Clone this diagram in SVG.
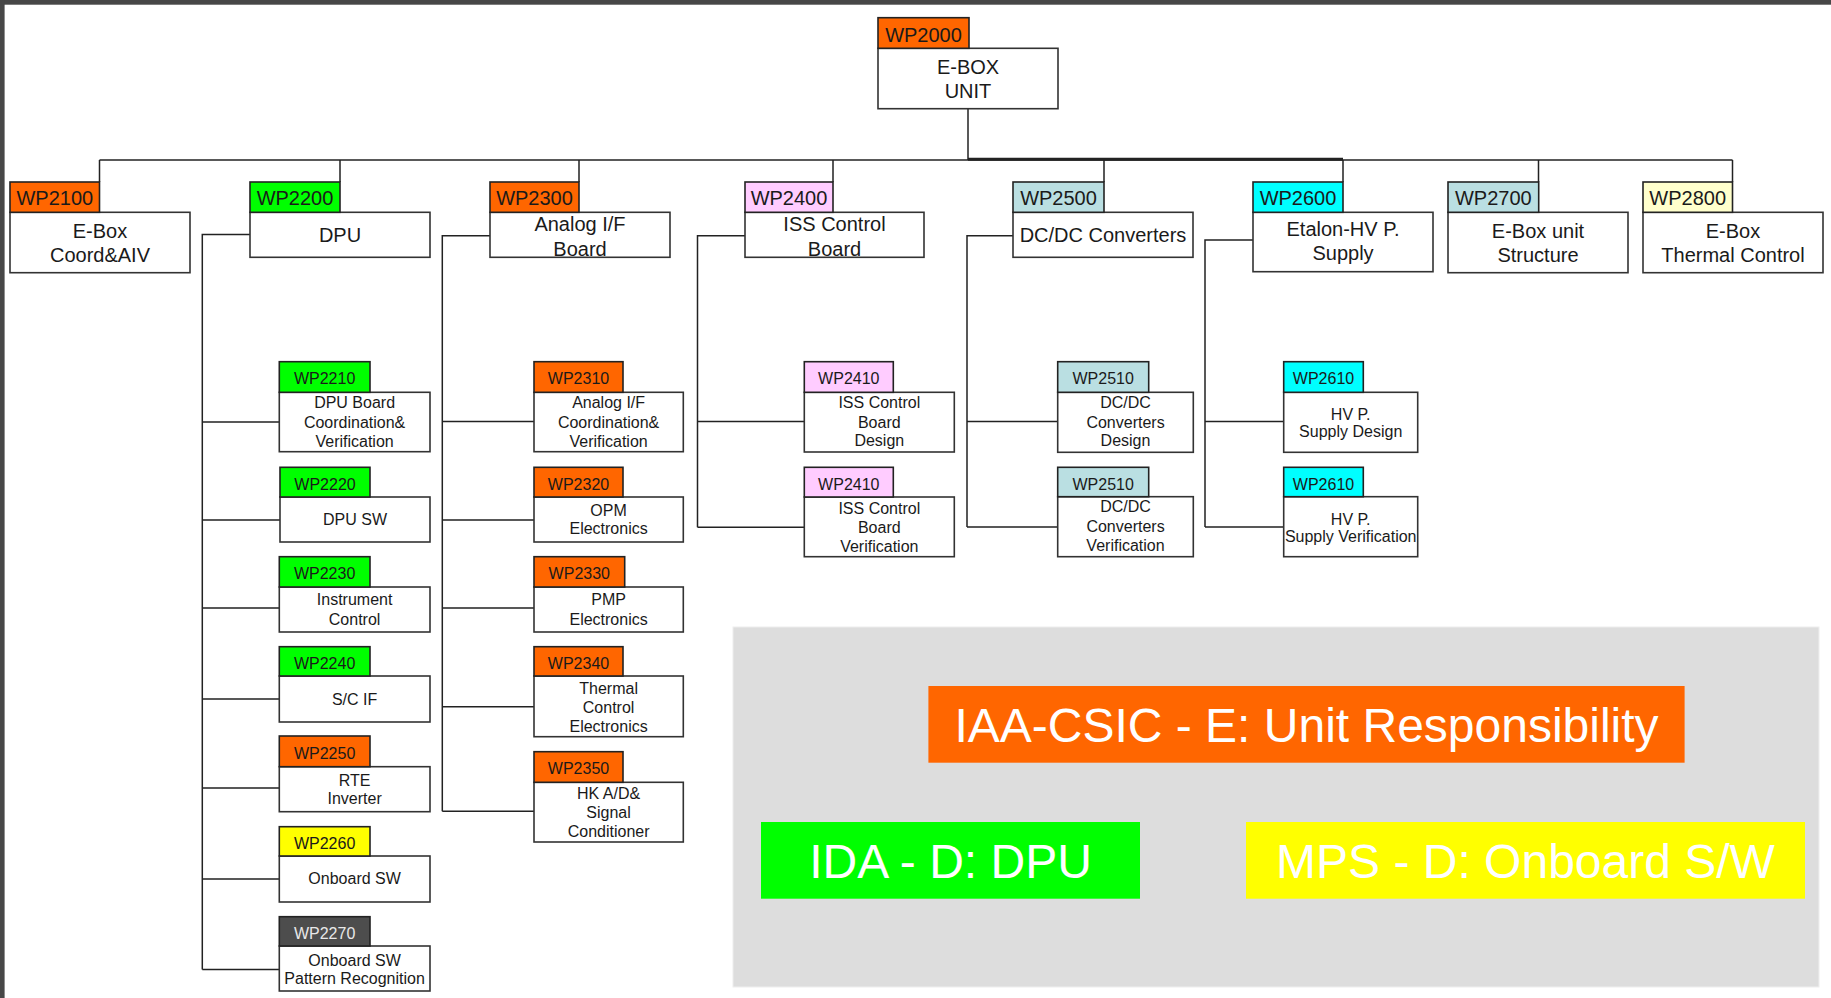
<svg xmlns="http://www.w3.org/2000/svg" width="1831" height="998" viewBox="0 0 1831 998">
<style>
.box{fill:#fff;stroke:#333;stroke-width:1.6}
.lb{stroke:#222;stroke-width:1.6}
.or{fill:#FF6600}.gr{fill:#00FF00}.pk{fill:#FFCCFF}.bl{fill:#BADFE2}.cy{fill:#00FFFF}.ly{fill:#FFFFCC}.ye{fill:#FFFF00}.dk{fill:#4D4D4D}
text{font-family:"Liberation Sans",Arial,sans-serif;text-anchor:middle;fill:#1a1a1a}
.t20{font-size:20px}
.t16{font-size:16px}
.lt{fill:#e8e8e8}
.big{font-size:48px;fill:#fff}
.ln{fill:none;stroke:#222;stroke-width:1.5}
</style>
<rect x="0" y="0" width="1831" height="998" fill="#fff"/>
<rect x="0" y="0" width="1831" height="4.7" fill="#474747"/>
<rect x="0" y="0" width="4.6" height="998" fill="#474747"/>

<g id="connectors" class="ln">
<path d="M99.5,160 H1732.5"/>
<path d="M968,159.3 H1343" stroke-width="3"/>
<path d="M968,108.7 V160"/>
<path d="M99.5,160 V182 M340,160 V182 M579,160 V182 M833,160 V182 M1104,160 V182 M1343,160 V182 M1538.5,160 V182 M1732.5,160 V182"/>
<path d="M250,234.5 H202.3 V969.5 M202.3,422 H279.3 M202.3,520 H280 M202.3,608 H279.3 M202.3,699 H279.3 M202.3,788 H279.3 M202.3,879 H279.3 M202.3,969.5 H279.3"/>
<path d="M490,235.7 H442.3 V811.3 M442.3,421.5 H534 M442.3,520 H534 M442.3,608 H534 M442.3,706.7 H534 M442.3,811.3 H534"/>
<path d="M745,235.7 H697.5 V527.3 M697.5,421.5 H804.3 M697.5,527.3 H804.3"/>
<path d="M1013,235.7 H967 V527 M967,421.5 H1057.7 M967,527 H1057.7"/>
<path d="M1253,240 H1205 V527 M1205,421.5 H1283.7 M1205,527 H1283.7"/>
</g>

<g id="WP2000">
<rect class="box" x="878" y="48.3" width="180" height="60.4"/>
<rect class="lb or" x="878" y="17.7" width="91" height="30.6"/>
<text class="t20" x="923.5" y="41.7">WP2000</text>
<text class="t20" x="968" y="74">E-BOX</text>
<text class="t20" x="968" y="98.3">UNIT</text>
</g>

<g id="WP2100">
<rect class="box" x="10" y="212.3" width="180" height="60.4"/>
<rect class="lb or" x="10" y="182" width="89.5" height="30.3"/>
<text class="t20" x="54.8" y="205">WP2100</text>
<text class="t20" x="100" y="238">E-Box</text>
<text class="t20" x="100" y="262">Coord&amp;AIV</text>
</g>

<g id="WP2200">
<rect class="box" x="250" y="212.3" width="180" height="45"/>
<rect class="lb gr" x="250" y="182" width="90" height="30.3"/>
<text class="t20" x="295" y="205">WP2200</text>
<text class="t20" x="340" y="242.3">DPU</text>
</g>

<g id="WP2300">
<rect class="box" x="490" y="212.3" width="180" height="45"/>
<rect class="lb or" x="490" y="182" width="89" height="30.3"/>
<text class="t20" x="534.5" y="205">WP2300</text>
<text class="t20" x="580" y="230.7">Analog I/F</text>
<text class="t20" x="580" y="255.7">Board</text>
</g>

<g id="WP2400">
<rect class="box" x="745" y="212.3" width="179" height="45"/>
<rect class="lb pk" x="745" y="182" width="88" height="30.3"/>
<text class="t20" x="789" y="205">WP2400</text>
<text class="t20" x="834.5" y="230.7">ISS Control</text>
<text class="t20" x="834.5" y="255.7">Board</text>
</g>

<g id="WP2500">
<rect class="box" x="1013" y="212.3" width="180" height="45"/>
<rect class="lb bl" x="1013" y="182" width="91" height="30.3"/>
<text class="t20" x="1058.5" y="205">WP2500</text>
<text class="t20" x="1103" y="242.3">DC/DC Converters</text>
</g>

<g id="WP2600">
<rect class="box" x="1253" y="212.3" width="180" height="59.4"/>
<rect class="lb cy" x="1253" y="182" width="90" height="30.3" stroke-width="2.2"/>
<text class="t20" x="1298" y="205">WP2600</text>
<text class="t20" x="1343" y="235.7">Etalon-HV P.</text>
<text class="t20" x="1343" y="260">Supply</text>
</g>

<g id="WP2700">
<rect class="box" x="1448" y="212.3" width="180" height="60.4"/>
<rect class="lb bl" x="1448" y="182" width="90.7" height="30.3"/>
<text class="t20" x="1493.3" y="205">WP2700</text>
<text class="t20" x="1538" y="238.3">E-Box unit</text>
<text class="t20" x="1538" y="262.3">Structure</text>
</g>

<g id="WP2800">
<rect class="box" x="1643" y="212.3" width="180" height="60.4"/>
<rect class="lb ly" x="1643" y="182" width="89.5" height="30.3"/>
<text class="t20" x="1687.7" y="205">WP2800</text>
<text class="t20" x="1733" y="238.3">E-Box</text>
<text class="t20" x="1733" y="262.3">Thermal Control</text>
</g>

<g id="WP2210">
<rect class="box" x="279.3" y="392.3" width="150.7" height="59.4"/>
<rect class="lb gr" x="279.3" y="361.7" width="90.7" height="30.6"/>
<text class="t16" x="324.6" y="384.3">WP2210</text>
<text class="t16" x="354.6" y="408.3">DPU Board</text>
<text class="t16" x="354.6" y="428.3">Coordination&amp;</text>
<text class="t16" x="354.6" y="446.7">Verification</text>
</g>

<g id="WP2220">
<rect class="box" x="280" y="497" width="150" height="45"/>
<rect class="lb gr" x="280" y="467.3" width="90" height="29.7"/>
<text class="t16" x="325" y="489.6">WP2220</text>
<text class="t16" x="355" y="525.3">DPU SW</text>
</g>

<g id="WP2230">
<rect class="box" x="279.3" y="587" width="150.7" height="45"/>
<rect class="lb gr" x="279.3" y="556.7" width="90.7" height="30.3"/>
<text class="t16" x="324.6" y="579.3">WP2230</text>
<text class="t16" x="354.6" y="605">Instrument</text>
<text class="t16" x="354.6" y="625">Control</text>
</g>

<g id="WP2240">
<rect class="box" x="279.3" y="676" width="150.7" height="46"/>
<rect class="lb gr" x="279.3" y="646.7" width="90.7" height="29.3"/>
<text class="t16" x="324.6" y="668.6">WP2240</text>
<text class="t16" x="354.6" y="705">S/C IF</text>
</g>

<g id="WP2250">
<rect class="box" x="279.3" y="766.7" width="150.7" height="45"/>
<rect class="lb or" x="279.3" y="736" width="90.7" height="30.7"/>
<text class="t16" x="324.6" y="758.6">WP2250</text>
<text class="t16" x="354.6" y="786">RTE</text>
<text class="t16" x="354.6" y="804.3">Inverter</text>
</g>

<g id="WP2260">
<rect class="box" x="279.3" y="856" width="150.7" height="46"/>
<rect class="lb ye" x="279.3" y="826.7" width="90.7" height="29.3"/>
<text class="t16" x="324.6" y="848.6">WP2260</text>
<text class="t16" x="354.6" y="884.3">Onboard SW</text>
</g>

<g id="WP2270">
<rect class="box" x="279.3" y="946" width="150.7" height="45"/>
<rect class="lb dk" x="279.3" y="916.7" width="90.7" height="29.3"/>
<text class="t16 lt" x="324.6" y="938.6">WP2270</text>
<text class="t16" x="354.6" y="965.7">Onboard SW</text>
<text class="t16" x="354.6" y="984.3">Pattern Recognition</text>
</g>

<g id="WP2310">
<rect class="box" x="534" y="392.3" width="149.3" height="59.4"/>
<rect class="lb or" x="534" y="361.7" width="89" height="30.6"/>
<text class="t16" x="578.5" y="384.3">WP2310</text>
<text class="t16" x="608.6" y="408.3">Analog I/F</text>
<text class="t16" x="608.6" y="428.3">Coordination&amp;</text>
<text class="t16" x="608.6" y="446.7">Verification</text>
</g>

<g id="WP2320">
<rect class="box" x="534" y="497" width="149.3" height="45"/>
<rect class="lb or" x="534" y="467.3" width="89" height="29.7"/>
<text class="t16" x="578.5" y="489.6">WP2320</text>
<text class="t16" x="608.6" y="515.7">OPM</text>
<text class="t16" x="608.6" y="534.3">Electronics</text>
</g>

<g id="WP2330">
<rect class="box" x="534" y="587" width="149.3" height="45"/>
<rect class="lb or" x="534" y="556.7" width="90.7" height="30.3"/>
<text class="t16" x="579.3" y="579.3">WP2330</text>
<text class="t16" x="608.6" y="605">PMP</text>
<text class="t16" x="608.6" y="625">Electronics</text>
</g>

<g id="WP2340">
<rect class="box" x="534" y="676" width="149.3" height="60.7"/>
<rect class="lb or" x="534" y="646.7" width="89" height="29.3"/>
<text class="t16" x="578.5" y="668.6">WP2340</text>
<text class="t16" x="608.6" y="694">Thermal</text>
<text class="t16" x="608.6" y="712.7">Control</text>
<text class="t16" x="608.6" y="732.3">Electronics</text>
</g>

<g id="WP2350">
<rect class="box" x="534" y="782.3" width="149.3" height="59.7"/>
<rect class="lb or" x="534" y="751.7" width="89" height="30.6"/>
<text class="t16" x="578.5" y="774.3">WP2350</text>
<text class="t16" x="608.6" y="799">HK A/D&amp;</text>
<text class="t16" x="608.6" y="818.3">Signal</text>
<text class="t16" x="608.6" y="836.7">Conditioner</text>
</g>

<g id="WP2410a">
<rect class="box" x="804.3" y="392.3" width="150" height="59.7"/>
<rect class="lb pk" x="804.3" y="361.7" width="89" height="30.6"/>
<text class="t16" x="848.8" y="384.3">WP2410</text>
<text class="t16" x="879.3" y="408.3">ISS Control</text>
<text class="t16" x="879.3" y="428.3">Board</text>
<text class="t16" x="879.3" y="446">Design</text>
</g>

<g id="WP2410b">
<rect class="box" x="804.3" y="497" width="150" height="59.7"/>
<rect class="lb pk" x="804.3" y="467.3" width="89" height="29.7"/>
<text class="t16" x="848.8" y="489.6">WP2410</text>
<text class="t16" x="879.3" y="514">ISS Control</text>
<text class="t16" x="879.3" y="533.3">Board</text>
<text class="t16" x="879.3" y="552.3">Verification</text>
</g>

<g id="WP2510a">
<rect class="box" x="1057.7" y="392.3" width="135.6" height="60"/>
<rect class="lb bl" x="1057.7" y="361.7" width="91" height="30.6"/>
<text class="t16" x="1103.2" y="384.3">WP2510</text>
<text class="t16" x="1125.5" y="408.3">DC/DC</text>
<text class="t16" x="1125.5" y="428.3">Converters</text>
<text class="t16" x="1125.5" y="446">Design</text>
</g>

<g id="WP2510b">
<rect class="box" x="1057.7" y="496.7" width="135.6" height="60"/>
<rect class="lb bl" x="1057.7" y="467.3" width="91" height="29.4"/>
<text class="t16" x="1103.2" y="489.6">WP2510</text>
<text class="t16" x="1125.5" y="512.3">DC/DC</text>
<text class="t16" x="1125.5" y="532.3">Converters</text>
<text class="t16" x="1125.5" y="550.7">Verification</text>
</g>

<g id="WP2610a">
<rect class="box" x="1283.7" y="392.3" width="134" height="60"/>
<rect class="lb cy" x="1283.7" y="361.7" width="79.6" height="30.6"/>
<text class="t16" x="1323.5" y="384.3">WP2610</text>
<text class="t16" x="1350.7" y="420">HV P.</text>
<text class="t16" x="1350.7" y="436.7">Supply Design</text>
</g>

<g id="WP2610b">
<rect class="box" x="1283.7" y="496.7" width="134" height="60"/>
<rect class="lb cy" x="1283.7" y="467.3" width="79.6" height="29.4"/>
<text class="t16" x="1323.5" y="489.6">WP2610</text>
<text class="t16" x="1350.7" y="525">HV P.</text>
<text class="t16" x="1350.7" y="541.7" font-size="15.7">Supply Verification</text>
</g>

<g id="legend">
<rect x="733" y="627" width="1086" height="360" fill="#DDDDDD" stroke="#EEEEEE" stroke-width="1"/>
<rect x="928.4" y="686" width="756.2" height="76.7" fill="#FF6600"/>
<text class="big" x="1306.5" y="741.7">IAA-CSIC - E: Unit Responsibility</text>
<rect x="761" y="822" width="379" height="76.7" fill="#00FF00"/>
<text class="big" x="950.5" y="877.7" font-size="47">IDA - D: DPU</text>
<rect x="1246" y="822" width="559" height="76.7" fill="#FFFF00"/>
<text class="big" x="1525.5" y="877.7">MPS - D: Onboard S/W</text>
</g>
</svg>
